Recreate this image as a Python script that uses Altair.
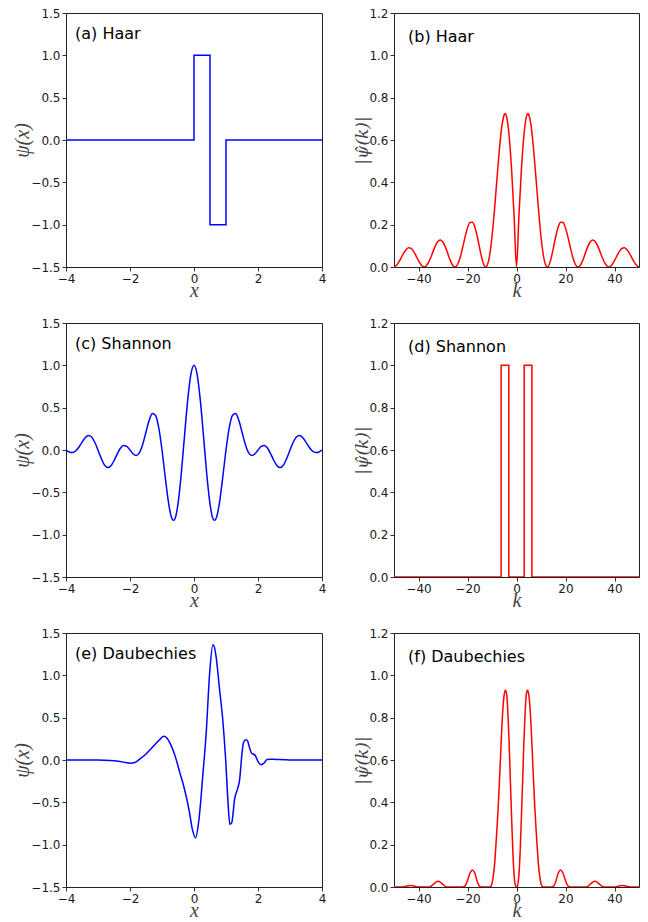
import altair as alt
import pandas as pd

# ---------------- data ----------------
# (a) Haar wavelet psi(x)
haar_x   = [-4, 0, 0, 0.5, 0.5, 1, 1, 4]
haar_psi = [0, 0, 1, 1, -1, -1, 0, 0]

# (b) Haar |psi_hat(k)|
haar_k = [-50, -49, -48, -47, -46, -45, -44, -43, -42, -41,
          -40, -39, -38, -37.7, -36, -35, -34, -33, -32, -31,
          -30, -29, -28, -27, -26, -25.13, -24, -23, -22, -21,
          -20, -19, -18, -17, -16, -15, -14, -13, -12.57, -12,
          -11, -10, -9, -8, -7, -6, -5, -4.7, -4, -3, -2, -1,
          0, 1, 2, 3, 4, 4.7, 5, 6, 7, 8, 9, 10, 11, 12, 12.57, 13,
          14, 15, 16, 17, 18, 19, 20, 21, 22, 23, 24, 25.13, 26, 27, 28, 29,
          30, 31, 32, 33, 34, 35, 36, 37.7, 38, 39, 40, 41, 42, 43, 44, 45,
          46, 47, 48, 49, 50]
haar_mag = [0, .008, .024, .045, .067, .083, .091, .088, .074, .053,
            .030, .011, .001, 0, .019, .045, .075, .103, .122, .128,
            .117, .094, .062, .030, .007, 0, .013, .045, .091, .141,
            .184, .210, .212, .189, .143, .087, .035, .004, 0, .007,
            .053, .143, .269, .413, .553, .663, .720, .725, .708, .619, .460, .245,
            0, .245, .460, .619, .708, .725, .720, .663, .553, .413, .269, .143, .053, .007, 0, .004,
            .035, .087, .143, .189, .212, .210, .184, .141, .091, .045, .013, 0, .007, .030, .062, .094,
            .117, .128, .122, .103, .075, .045, .019, 0, .001, .011, .030, .053, .074, .088, .091, .083,
            .067, .045, .024, .008, 0]

# (c) Shannon wavelet psi(x)
shannon_x = [-4.0, -3.9, -3.8, -3.7, -3.6, -3.5, -3.4, -3.3, -3.2, -3.1,
             -3.0, -2.9, -2.8, -2.7, -2.6, -2.5, -2.4, -2.3, -2.2, -2.1,
             -2.0, -1.9, -1.8, -1.7, -1.6, -1.5, -1.4, -1.3, -1.2, -1.1,
             -1.0, -0.9, -0.8, -0.7, -0.65, -0.6, -0.5, -0.4, -0.3, -0.2, -0.1,
             0.0,
             0.1, 0.2, 0.3, 0.4, 0.5, 0.6, 0.65, 0.7, 0.8, 0.9, 1.0,
             1.1, 1.2, 1.3, 1.4, 1.5, 1.6, 1.7, 1.8, 1.9, 2.0,
             2.1, 2.2, 2.3, 2.4, 2.5, 2.6, 2.7, 2.8, 2.9, 3.0,
             3.1, 3.2, 3.3, 3.4, 3.5, 3.6, 3.7, 3.8, 3.9, 4.0]
shannon_psi = [0, -.023, -.030, -.012, .032, .091, .144, .170, .153, .092,
               0, -.098, -.175, -.208, -.188, -.127, -.048, .020, .053, .042,
               0, -.047, -.064, -.027, .072, .212, .350, .431, .408, .260,
               0, -.317, -.612, -.800, -.830, -.816, -.637, -.289, .151, .578, .887,
               1.0,
               .887, .578, .151, -.289, -.637, -.816, -.830, -.800, -.612, -.317, 0,
               .260, .408, .431, .350, .212, .072, -.027, -.064, -.047, 0,
               .042, .053, .020, -.048, -.127, -.188, -.208, -.175, -.098, 0,
               .092, .153, .170, .144, .091, .032, -.012, -.030, -.023, 0]

# (d) Shannon |psi_hat(k)|
shannon_k   = [-50, -6.283, -6.283, -3.142, -3.142, 3.142, 3.142, 6.283, 6.283, 50]
shannon_mag = [0, 0, 1, 1, 0, 0, 1, 1, 0, 0]

# (e) Daubechies wavelet psi(x)
daub_x = [-4.0, -3.5, -3.0, -2.8, -2.5, -2.2, -2.0, -1.85, -1.7, -1.5,
          -1.3, -1.1, -0.95, -0.85, -0.75, -0.6, -0.45, -0.3, -0.15, -0.05,
          0.05, 0.15, 0.28, 0.38, 0.49, 0.59, 0.64, 0.69, 0.80, 0.90,
          0.99, 1.06, 1.12, 1.18, 1.27, 1.37, 1.42, 1.50, 1.55, 1.62,
          1.68, 1.74, 1.80, 1.86, 1.92, 2.00, 2.10, 2.18, 2.28, 2.4,
          2.6, 2.8, 3.0, 4.0]
daub_psi = [0, 0, 0, -.002, -.010, -.025, -.038, -.030, .010, .070,
            .150, .230, .280, .260, .200, .060, -.140, -.340, -.600, -.820,
            -.920, -.720, -.160, .310, 1.030, 1.360, 1.330, 1.220, .830, .470,
            0, -.480, -.760, -.740, -.460, -.330, -.250, .080, .210, .240,
            .220, .140, .080, .070, .050, -.020, -.055, -.040, .005, .010,
            .005, .004, 0, 0]

# (f) Daubechies |psi_hat(k)|
daub_k = [-50, -47, -46, -45, -44, -43, -42, -41, -40,
          -36, -35, -34, -33, -32, -31, -30, -29, -28,
          -22, -21, -20, -19, -18, -17, -16, -15, -14,
          -11, -10.5, -10, -9.5, -9, -8.5, -8, -7.5, -7, -6.5, -6, -5.5, -5, -4.5,
          -4, -3.5, -3, -2.5, -2, -1.5, -1, -0.5,
          0,
          0.5, 1, 1.5, 2, 2.5, 3, 3.5, 4,
          4.5, 5, 5.5, 6, 6.5, 7, 7.5, 8, 8.5, 9, 9.5, 10, 10.5, 11,
          14, 15, 16, 17, 18, 19, 20, 21, 22,
          28, 29, 30, 31, 32, 33, 34, 35, 36,
          40, 41, 42, 43, 44, 45, 46, 47, 50]
daub_mag = [0, 0, .001, .004, .006, .007, .005, .002, 0,
            0, .003, .012, .022, .027, .022, .012, .003, 0,
            0, .005, .030, .065, .080, .065, .025, .003, 0,
            0, .003, .016, .050, .100, .180, .270, .370, .490, .620, .750, .850, .910, .930,
            .910, .820, .680, .500, .330, .170, .060, .010,
            0,
            .010, .060, .170, .330, .500, .680, .820, .910,
            .930, .910, .850, .750, .620, .490, .370, .270, .180, .100, .050, .016, .003, 0,
            0, .003, .025, .065, .080, .065, .030, .005, 0,
            0, .003, .012, .022, .027, .022, .012, .003, 0,
            0, .002, .005, .007, .006, .004, .001, 0, 0]

# ---------------- styling ----------------
LEFT_W, RIGHT_W, H = 256, 245, 254
TICK_FONT = "DejaVu Sans"
MATH_FONT = "Liberation Serif"


def panel(xs, ys, kind, label, width, color, interp):
    df = pd.DataFrame({"x": xs, "v": ys})
    if kind == "x":
        xdom, xvals, xtitle = [-4, 4], [-4, -2, 0, 2, 4], "x"
        ydom, yvals, ytitle = [-1.5, 1.5], [-1.5, -1.0, -0.5, 0.0, 0.5, 1.0, 1.5], "ψ(x)"
        ytx, lab_x, lab_y, yfont, yfs = -44, 9, 20.5, MATH_FONT, 20
    else:
        xdom, xvals, xtitle = [-50, 50], [-40, -20, 0, 20, 40], "k"
        ydom, yvals, ytitle = [0, 1.2], [0.0, 0.2, 0.4, 0.6, 0.8, 1.0, 1.2], "|ψ̂(k)|"
        ytx, lab_x, lab_y, yfont, yfs = -32, 14, 23.5, "DejaVu Serif", 17

    common = dict(grid=False, domain=False, ticks=True, tickSize=4, tickWidth=0.8,
                  tickColor="#000", labelFont=TICK_FONT, labelFontSize=12,
                  labelColor="#1a1a1a", labelPadding=2, labelOverlap=False,
                  titleFontStyle="italic", titleFontWeight="normal", titleColor="#444")

    xaxis = alt.Axis(values=xvals, format="d", title=xtitle, labelFlush=False,
                     titleFont=MATH_FONT, titleFontSize=20,
                     titleX=width / 2, titleY=29, titleAlign="center",
                     titleBaseline="alphabetic", **common)
    yaxis = alt.Axis(values=yvals, format=".1f", title=ytitle,
                     titleFont=yfont, titleFontSize=yfs,
                     titleX=ytx, titleY=H / 2, titleAngle=270, titleAlign="center",
                     titleBaseline="middle", **common)

    line = alt.Chart(df).transform_window(idx="row_number()").mark_line(
        color=color, strokeWidth=1.5, interpolate=interp, clip=True
    ).encode(
        x=alt.X("x:Q", scale=alt.Scale(domain=xdom, nice=False, zero=False), axis=xaxis),
        y=alt.Y("v:Q", scale=alt.Scale(domain=ydom, nice=False, zero=False), axis=yaxis),
        order=alt.Order("idx:Q"),
    )

    text = alt.Chart(pd.DataFrame({"t": [label]})).mark_text(
        align="left", baseline="middle", font=TICK_FONT, fontSize=16, color="#000"
    ).encode(text="t:N", x=alt.value(lab_x), y=alt.value(lab_y))

    return alt.layer(line, text).properties(width=width, height=H)


a = panel(haar_x, haar_psi, "x", "(a) Haar", LEFT_W, "#0000ff", "linear")
b = panel(haar_k, haar_mag, "k", "(b) Haar", RIGHT_W, "#ff0000", "monotone")
c = panel(shannon_x, shannon_psi, "x", "(c) Shannon", LEFT_W, "#0000ff", "monotone")
d = panel(shannon_k, shannon_mag, "k", "(d) Shannon", RIGHT_W, "#ff0000", "linear")
e = panel(daub_x, daub_psi, "x", "(e) Daubechies", LEFT_W, "#0000ff", "monotone")
f = panel(daub_k, daub_mag, "k", "(f) Daubechies", RIGHT_W, "#ff0000", "monotone")

chart = alt.concat(a, b, c, d, e, f, columns=2,
                   spacing={"row": 56, "column": 72}, bounds="flush").properties(
    padding={"left": 3, "top": -2, "right": 0, "bottom": 0},
    background="#ffffff",
).configure_view(stroke="#222", strokeWidth=1)

chart.save("out.html", embed_options={"renderer": "svg", "actions": False})
